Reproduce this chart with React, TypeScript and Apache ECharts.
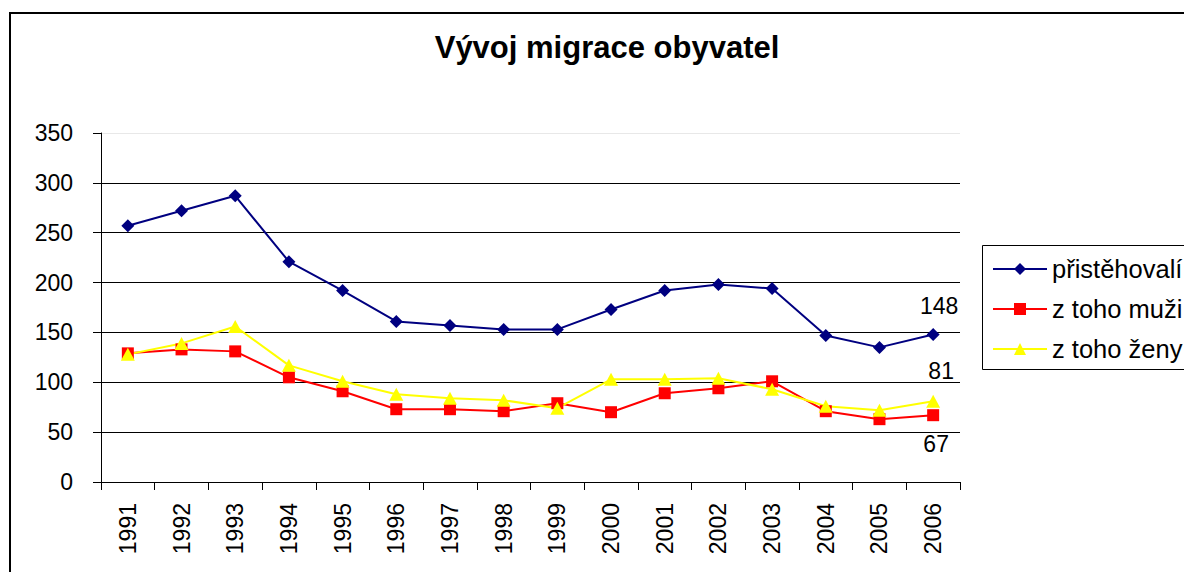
import React, { useEffect, useRef } from "react";
import * as echarts from "echarts";

const years = ["1991","1992","1993","1994","1995","1996","1997","1998","1999","2000","2001","2002","2003","2004","2005","2006"];
const immigrants = [257, 272, 287, 221, 192, 161, 157, 153, 153, 173, 192, 198, 194, 147, 135, 148];
const men = [129, 133, 131, 105, 91, 73, 73, 71, 79, 70, 89, 94, 101, 71, 63, 67];
const women = [128, 139, 156, 117, 101, 88, 84, 82, 74, 103, 103, 104, 93, 76, 72, 81];
const yTicks = { min: 0, max: 350, interval: 50 };

const FONT = "'Liberation Sans', Arial, sans-serif";

function withLastLabel(values: number[], offset: [number, number]) {
  return values.map((v, i) =>
    i === values.length - 1
      ? {
          value: v,
          label: {
            show: true,
            position: "inside",
            offset,
            fontSize: 23,
            fontFamily: FONT,
            color: "#000",
            align: "center",
            verticalAlign: "middle",
          },
        }
      : v
  );
}

export default function App() {
  const ref = useRef<HTMLDivElement>(null);
  useEffect(() => {
    if (!ref.current) return;
    const chart = echarts.init(ref.current, null, { renderer: "svg" });
    chart.setOption({
      animation: false,
      backgroundColor: "#fff",
      textStyle: { fontFamily: FONT },
      title: {
        text: "Vývoj migrace obyvatel",
        left: 607,
        top: 32,
        textAlign: "center",
        padding: 0,
        textStyle: { fontSize: 31, fontWeight: "bold", color: "#000", fontFamily: FONT },
      },
      graphic: [
        {
          type: "polyline",
          shape: { points: [[1260, 13], [10, 13], [10, 640]] },
          style: { fill: "none", stroke: "#000", lineWidth: 2 },
          silent: true,
        },
        {
          type: "polyline",
          shape: { points: [[1260, 245.5], [982.5, 245.5], [982.5, 369.5], [1260, 369.5]] },
          style: { fill: "none", stroke: "#000", lineWidth: 1 },
          silent: true,
        },
      ],
      legend: {
        orient: "vertical",
        left: 982,
        top: 245,
        padding: [4, 0, 0, 10],
        borderWidth: 0,
        borderColor: "transparent",
        backgroundColor: "transparent",
        itemWidth: 54,
        itemHeight: 15,
        itemGap: 0,
        textStyle: { fontSize: 25.5, color: "#000", fontFamily: FONT, lineHeight: 40 },
        data: ["přistěhovalí", "z toho muži", "z toho ženy"],
      },
      grid: { left: 101, right: 224, top: 133, bottom: 90, containLabel: false },
      xAxis: {
        type: "category",
        data: years,
        boundaryGap: true,
        axisLine: { show: true, lineStyle: { color: "#000", width: 1 } },
        axisTick: { show: true, length: 8, lineStyle: { color: "#000" } },
        axisLabel: { rotate: 90, fontSize: 23, margin: 21, color: "#000", fontFamily: FONT },
        splitLine: { show: false },
      },
      yAxis: {
        type: "value",
        min: yTicks.min,
        max: yTicks.max,
        interval: yTicks.interval,
        axisLine: { show: true, lineStyle: { color: "#000", width: 1 } },
        axisTick: { show: true, length: 8, lineStyle: { color: "#000" } },
        axisLabel: { fontSize: 23, margin: 28, color: "#000", fontFamily: FONT },
        splitLine: {
          show: true,
          lineStyle: {
            color: ["#000", "#000", "#000", "#000", "#000", "#000", "#000", "#e8e8e8"],
            width: 1,
          },
        },
      },
      series: [
        {
          name: "přistěhovalí",
          type: "line",
          data: withLastLabel(immigrants, [6, -28]),
          symbol: "diamond",
          symbolSize: 13,
          color: "#000080",
          lineStyle: { color: "#000080", width: 2 },
          itemStyle: { color: "#000080" },
        },
        {
          name: "z toho muži",
          type: "line",
          data: withLastLabel(men, [3, 29]),
          symbol: "rect",
          symbolSize: 12,
          color: "#ff0000",
          lineStyle: { color: "#ff0000", width: 2 },
          itemStyle: { color: "#ff0000" },
        },
        {
          name: "z toho ženy",
          type: "line",
          data: withLastLabel(women, [8, -30]),
          symbol: "triangle",
          symbolSize: [14, 13],
          color: "#ffff00",
          lineStyle: { color: "#ffff00", width: 2 },
          itemStyle: { color: "#ffff00" },
        },
      ],
    });
    return () => chart.dispose();
  }, []);
  return (
    <div
      ref={ref}
      style={{ position: "absolute", left: 0, top: 0, width: 1184, height: 572, overflow: "hidden" }}
    />
  );
}
